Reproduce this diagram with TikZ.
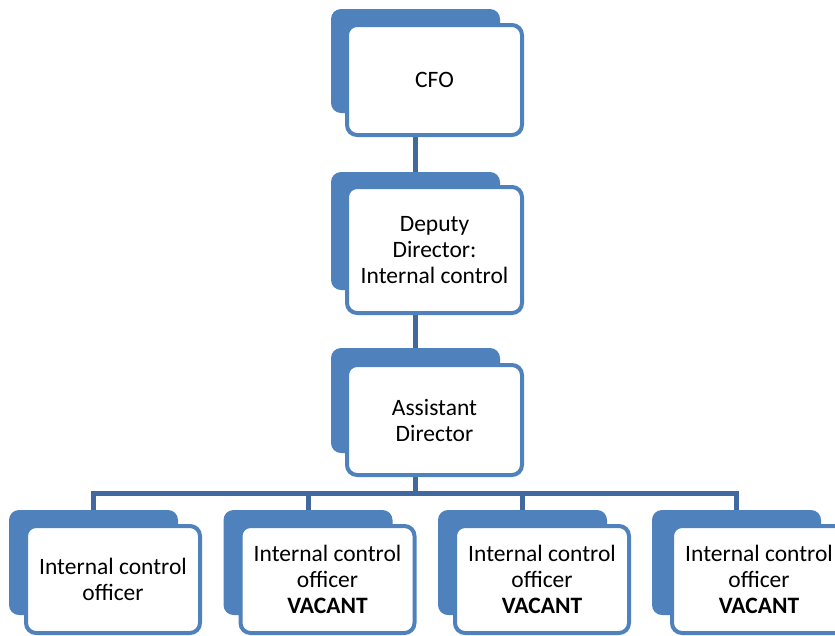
\documentclass[tikz,border=0pt]{standalone}
\usepackage{fontspec}
\setmainfont{Carlito}
\pgfdeclarelayer{bg}
\pgfsetlayers{bg,main}
\definecolor{tabblue}{HTML}{4F81BD}
\definecolor{linkblue}{HTML}{4169A0}
\tikzset{
  tab/.style={rectangle, rounded corners=10pt, fill=tabblue, inner sep=0pt,
              minimum width=169pt},
  card/.style={rectangle, rounded corners=10pt, draw=tabblue, line width=4pt,
               fill=white, inner sep=0pt, minimum width=175pt, align=center,
               font=\fontsize{23.5}{26}\selectfont},
  link/.style={draw=linkblue, line width=5pt}
}
\begin{document}
\begin{tikzpicture}[x=1pt, y=-1pt]
  \clip (0,0) rectangle (835,635);
  \useasboundingbox (0,0) rectangle (835,635);
  % top chain
  \node[tab, minimum height=104pt] (cfoB) at (415.5,61) {};
  \node[card, minimum height=110pt] (cfo) at (434.5,80) {CFO};
  \node[tab, minimum height=118pt] (depB) at (415.5,231) {};
  \node[card, minimum height=126pt] (dep) at (434.5,250) {Deputy\\Director:\\Internal control};
  \node[tab, minimum height=105pt] (asB) at (415.5,400.5) {};
  \node[card, minimum height=110pt] (as) at (434.5,420) {Assistant\\Director};
  % officer row
  \foreach \n/\bx in {o1/93.5, o2/308, o3/522.5, o4/736.5} {
    \node[tab, minimum height=105pt] (\n B) at (\bx,562.5) {};
  }
  \node[card, minimum height=107pt, minimum width=174pt] (o1) at (113,579.5) {Internal control\\officer};
  \node[card, minimum height=107pt, minimum width=174pt] (o2) at (327.5,579.5) {Internal control\\officer\\\textbf{VACANT}};
  \node[card, minimum height=107pt, minimum width=174pt] (o3) at (542,579.5) {Internal control\\officer\\\textbf{VACANT}};
  \node[card, minimum height=107pt, minimum width=174pt] (o4) at (759,579.5) {Internal control\\officer\\\textbf{VACANT}};
  % connectors
  \begin{pgfonlayer}{bg}
    \path[link] (cfoB.south) -- (depB.north);
    \path[link] (depB.south) -- (asB.north);
    \coordinate (bus) at (0,493);
    \path[link] (asB.south) -- (asB.south |- bus);
    \path[link] (o1B.north) -- (o1B.north |- bus) -- (o4B.north |- bus) -- (o4B.north);
    \path[link] (o2B.north) -- (o2B.north |- bus);
    \path[link] (o3B.north) -- (o3B.north |- bus);
  \end{pgfonlayer}
\end{tikzpicture}
\end{document}
